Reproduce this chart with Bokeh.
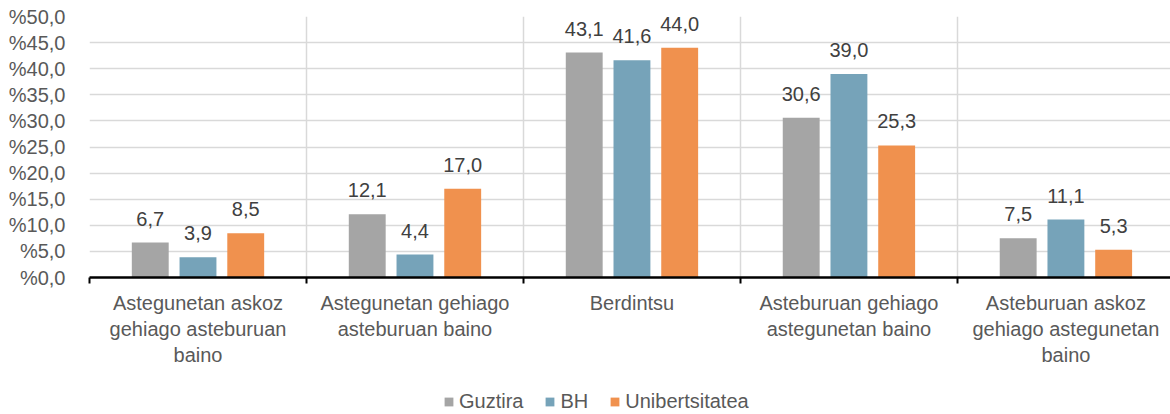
from bokeh.plotting import figure
from bokeh.layouts import column
from bokeh.models import ColumnDataSource, FixedTicker, Range1d, Legend, LegendItem
from bokeh.core.properties import value
from bokeh.transform import dodge
from bokeh.embed import file_html
from bokeh.resources import INLINE

categories = [
    "Astegunetan askoz\ngehiago asteburuan\nbaino",
    "Astegunetan gehiago\nasteburuan baino",
    "Berdintsu",
    "Asteburuan gehiago\nastegunetan baino",
    "Asteburuan askoz\ngehiago astegunetan\nbaino",
]
series_names = ["Guztira", "BH", "Unibertsitatea"]
guztira = [6.7, 12.1, 43.1, 30.6, 7.5]
bh = [3.9, 4.4, 41.6, 39.0, 11.1]
unibertsitatea = [8.5, 17.0, 44.0, 25.3, 5.3]
y_ticks = [0, 5, 10, 15, 20, 25, 30, 35, 40, 45, 50]

colors = ["#a5a5a5", "#76a3b9", "#f0914e"]
FONT = "Liberation Sans"

xpos = [i + 0.5 for i in range(len(categories))]
def fmt(v):
    return f"{v:.1f}".replace(".", ",")

src = ColumnDataSource(dict(
    x=xpos,
    g=guztira, b=bh, u=unibertsitatea,
    gl=[fmt(v) for v in guztira],
    bl=[fmt(v) for v in bh],
    ul=[fmt(v) for v in unibertsitatea],
))

p = figure(width=1170, height=385, output_backend="svg", toolbar_location=None,
           x_range=Range1d(0, 4.982), y_range=Range1d(0, 50),
           min_border_left=89, min_border_right=0, min_border_top=16,
           min_border_bottom=108)
p.outline_line_color = None

offsets = [-0.22, 0.0, 0.22]
cols = ["g", "b", "u"]
lcols = ["gl", "bl", "ul"]
for off, c, lc, col in zip(offsets, cols, lcols, colors):
    p.vbar(x=dodge("x", off), top=c, width=0.17, source=src,
           fill_color=col, line_color=None)
    p.text(x=dodge("x", off), y=c, text=lc, source=src, y_offset=-17,
           text_align="center", text_baseline="bottom",
           text_font=value(FONT), text_font_size="20px", text_color="#404040")

# x axis
xa = p.xaxis[0]
xa.ticker = FixedTicker(ticks=xpos, minor_ticks=[0, 1, 2, 3, 4, 5])
xa.major_label_overrides = {x: lab for x, lab in zip(xpos, categories)}
xa.major_tick_line_color = None
xa.minor_tick_in = 0
xa.minor_tick_out = 6
xa.minor_tick_line_color = "#000000"
xa.minor_tick_line_width = 2
xa.axis_line_color = "#000000"
xa.axis_line_width = 2.5
xa.major_label_text_font = FONT
xa.major_label_text_font_size = "20px"
xa.major_label_text_color = "#595959"
xa.major_label_standoff = 8

# y axis
ya = p.yaxis[0]
ya.ticker = FixedTicker(ticks=y_ticks, minor_ticks=[])
ya.major_label_overrides = {v: "%" + fmt(v) for v in y_ticks}
ya.axis_line_color = None
ya.major_tick_line_color = None
ya.minor_tick_line_color = None
ya.major_label_text_font = FONT
ya.major_label_text_font_size = "20px"
ya.major_label_text_color = "#595959"
ya.major_label_standoff = 18

p.xgrid.grid_line_color = None
p.xgrid.minor_grid_line_color = "#d9d9d9"
p.xgrid.minor_grid_line_width = 1.5
p.ygrid.grid_line_color = "#d9d9d9"
p.ygrid.grid_line_width = 1.5

# legend strip below the chart (swatch glyphs sit outside its visible range)
lg = figure(width=1170, height=29, output_backend="svg", toolbar_location=None,
            x_range=Range1d(0, 1), y_range=Range1d(0, 1),
            x_axis_location=None, y_axis_location=None,
            min_border=0, min_border_left=0, min_border_right=0,
            min_border_top=0, min_border_bottom=0)
lg.outline_line_color = None
lg.xgrid.visible = False
lg.ygrid.visible = False
swatch = ColumnDataSource(dict(x=[-10.0], top=[0.0]))
items = []
for col, name in zip(colors, series_names):
    r = lg.vbar(x="x", top="top", width=0.1, source=swatch,
                fill_color=col, line_color=None)
    items.append(LegendItem(label=name, renderers=[r]))
legend = Legend(items=items, orientation="horizontal", location=(354, 1),
                label_text_font=FONT, label_text_font_size="20px",
                label_text_color="#595959", glyph_width=11, glyph_height=11,
                label_standoff=5, spacing=21, border_line_color=None,
                background_fill_alpha=0, padding=0, margin=0)
lg.add_layout(legend, "center")

layout = column(p, lg, spacing=0)
open("out.html", "w").write(file_html(layout, INLINE))
